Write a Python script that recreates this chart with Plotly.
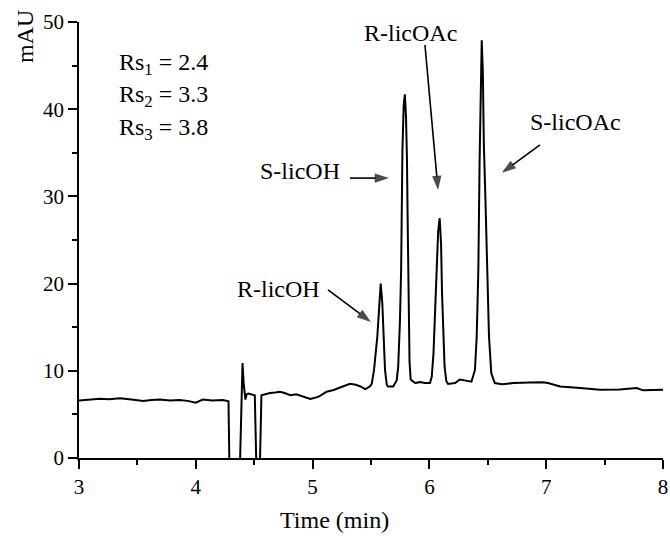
import plotly.graph_objects as go

# Chromatogram trace (time in min, absorbance in mAU)
time_min = [
    3.00, 3.05, 3.10, 3.18, 3.26, 3.35, 3.45, 3.55, 3.62, 3.69, 3.78, 3.86, 3.93,
    4.00, 4.06, 4.14, 4.23, 4.28, 4.29, 4.374, 4.40, 4.41, 4.425, 4.435, 4.45,
    4.475, 4.505, 4.522, 4.545, 4.562, 4.60, 4.635, 4.68, 4.72, 4.76, 4.81, 4.86,
    4.92, 4.98, 5.02, 5.06, 5.12, 5.18, 5.23, 5.28, 5.32, 5.37, 5.41, 5.45, 5.49,
    5.506, 5.526, 5.554, 5.571, 5.583, 5.597, 5.606, 5.62, 5.635, 5.645, 5.69,
    5.72, 5.733, 5.748, 5.758, 5.769, 5.78, 5.79, 5.80, 5.808, 5.815, 5.822, 5.83,
    5.84, 5.877, 5.92, 5.96, 6.005, 6.02, 6.035, 6.05, 6.062, 6.075, 6.088, 6.10,
    6.108, 6.118, 6.13, 6.145, 6.16, 6.22, 6.26, 6.30, 6.36, 6.39, 6.405, 6.412,
    6.419, 6.43, 6.44, 6.448, 6.458, 6.466, 6.48, 6.495, 6.51, 6.53, 6.56, 6.62,
    6.72, 6.86, 6.97, 7.015, 7.12, 7.29, 7.46, 7.63, 7.775, 7.83, 8.00,
]
signal_mau = [
    6.6, 6.65, 6.7, 6.8, 6.75, 6.84, 6.7, 6.55, 6.65, 6.7, 6.6, 6.65, 6.55,
    6.35, 6.7, 6.6, 6.65, 6.5, -3, -3, 10.9, 8.5, 6.7, 7.3, 7.4,
    7.3, 7.2, -3, -3, 7.2, 7.35, 7.45, 7.5, 7.6, 7.45, 7.2, 7.3,
    7.0, 6.77, 6.9, 7.1, 7.6, 7.8, 8.06, 8.3, 8.5, 8.4, 8.2, 7.9, 8.2,
    8.5, 10.1, 13.9, 17.7, 20.0, 17.7, 13.9, 10.1, 8.4, 8.2, 8.2,
    8.9, 10.5, 15.8, 21.6, 35.3, 40.5, 41.7, 39.0, 34.2, 26.0, 17.0, 11.0,
    9.0, 8.6, 8.7, 8.6, 8.6, 9.3, 12.0, 17.0, 21.6, 26.0, 27.5, 24.5,
    19.0, 14.0, 10.5, 8.8, 8.5, 8.6, 9.0, 8.9, 8.75, 10.1, 13.9, 17.7,
    21.6, 34.2, 44.0, 47.9, 44.0, 36.0, 29.6, 20.0, 14.0, 9.7, 8.6, 8.45,
    8.6, 8.65, 8.68, 8.6, 8.2, 8.03, 7.84, 7.86, 8.03, 7.76, 7.84,
]

x_ticks = [3, 4, 5, 6, 7, 8]
y_ticks = [0, 10, 20, 30, 40, 50]

# Peak labels: text, text position, arrow tail, arrow tip (data units)
peak_labels = ["R-licOH", "S-licOH", "R-licOAc", "S-licOAc"]
label_x = [4.71, 4.89, 5.834, 7.255]
label_y = [19.4, 32.9, 48.7, 38.5]
arrow_tail_x = [5.132, 5.32, 5.962, 6.947]
arrow_tail_y = [19.27, 32.1, 47.36, 35.9]
arrow_tip_x = [5.50, 5.654, 6.074, 6.62]
arrow_tip_y = [15.6, 32.1, 30.73, 32.7]

rs_labels = ["Rs<sub>1</sub> = 2.4", "Rs<sub>2</sub> = 3.3", "Rs<sub>3</sub> = 3.8"]
rs_y = [45.2, 41.5, 37.7]

FONT = "Liberation Serif"

fig = go.Figure()
fig.add_trace(go.Scatter(
    x=time_min, y=signal_mau, mode="lines",
    line=dict(color="black", width=2), showlegend=False, hoverinfo="skip",
))

for i in range(len(peak_labels)):
    fig.add_trace(go.Scatter(
        x=[arrow_tail_x[i], arrow_tip_x[i]],
        y=[arrow_tail_y[i], arrow_tip_y[i]],
        mode="lines+markers",
        line=dict(color="black", width=1.6),
        marker=dict(symbol="arrow", size=[0, 15], color="black",
                    angleref="previous", line=dict(width=0)),
        showlegend=False, hoverinfo="skip", cliponaxis=False,
    ))
    fig.add_annotation(x=label_x[i], y=label_y[i], xref="x", yref="y",
                       text=peak_labels[i], showarrow=False,
                       xanchor="center", yanchor="middle",
                       font=dict(family=FONT, size=24, color="black"))

for i in range(len(rs_labels)):
    fig.add_annotation(x=3.325, y=rs_y[i], xref="x", yref="y",
                       text=rs_labels[i], showarrow=False,
                       xanchor="left", yanchor="middle",
                       font=dict(family=FONT, size=24, color="black"))

fig.add_annotation(x=-0.0925, y=0.968, xref="paper", yref="paper",
                   text="mAU", textangle=-90, showarrow=False,
                   xanchor="center", yanchor="middle",
                   font=dict(family=FONT, size=24, color="black"))
fig.add_annotation(x=5.19, y=-0.142, xref="x", yref="paper",
                   text="Time (min)", showarrow=False,
                   xanchor="center", yanchor="middle",
                   font=dict(family=FONT, size=24, color="black"))

fig.update_layout(
    width=670, height=536,
    margin=dict(l=79, r=7, t=22, b=78),
    paper_bgcolor="white", plot_bgcolor="white",
    font=dict(family=FONT, size=21, color="black"),
    xaxis=dict(range=[3, 8], tickvals=x_ticks, ticks="outside", ticklen=9,
               tickwidth=1.5, tickcolor="black", showline=True, linewidth=1.5,
               linecolor="black", showgrid=False, zeroline=False, automargin=False,
               minor=dict(dtick=0.5, tick0=3, ticks="outside", ticklen=5,
                          tickwidth=1.5, tickcolor="black", showgrid=False),
               tickfont=dict(family=FONT, size=21, color="black")),
    yaxis=dict(range=[0, 50], tickvals=y_ticks, ticks="outside", ticklen=9,
               tickwidth=1.5, tickcolor="black", showline=True, linewidth=1.5,
               linecolor="black", showgrid=False, zeroline=False, automargin=False,
               minor=dict(dtick=5, tick0=0, ticks="outside", ticklen=5,
                          tickwidth=1.5, tickcolor="black", showgrid=False),
               tickfont=dict(family=FONT, size=21, color="black")),
)

fig.write_html("out.html",
               config={"displayModeBar": False},
               post_script="document.body.style.margin='0';"
                           "document.body.style.overflow='hidden';")
